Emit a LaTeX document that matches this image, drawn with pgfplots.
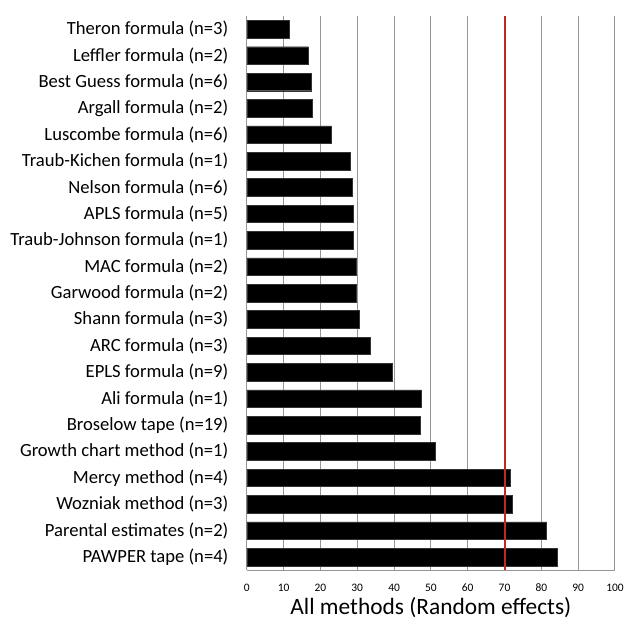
\documentclass[border=0pt]{standalone}
\usepackage{fontspec}
\setmainfont{Carlito}
\usepackage{pgfplots}
\pgfplotsset{compat=1.18}
\definecolor{gridgray}{RGB}{150,150,150}
\definecolor{refred}{RGB}{192,40,40}
\begin{document}
\begin{tikzpicture}
\begin{axis}[
  scale only axis,
  width=370pt, height=557pt,
  xmin=0, xmax=100,
  ymin=-0.5, ymax=20.5,
  y dir=reverse,
  xtick={0,10,...,100},
  ytick={0,...,20},
  yticklabels={Theron formula (n=3),Leffler formula (n=2),Best Guess formula (n=6),Argall formula (n=2),Luscombe formula (n=6),Traub-Kichen formula (n=1),Nelson formula (n=6),APLS formula (n=5),Traub-Johnson formula (n=1),MAC formula (n=2),Garwood formula (n=2),Shann formula (n=3),ARC formula (n=3),EPLS formula (n=9),Ali formula (n=1),Broselow tape (n=19),Growth chart method (n=1),Mercy method (n=4),Wozniak method (n=3),Parental estimates (n=2),PAWPER tape (n=4)},
  /pgf/number format/assume math mode=true,
  xticklabel style={font=\fontsize{11.5}{13}\selectfont, yshift=-10pt},
  yticklabel style={font=\fontsize{18.7}{22}\selectfont, xshift=-15pt},
  major tick length=0pt,
  xmajorgrids,
  grid style={gridgray, line width=1pt},
  axis x line*=bottom,
  axis y line*=left,
  axis line style={gridgray, line width=1pt, -},
  xlabel={All methods (Random effects)},
  xlabel style={font=\fontsize{23.5}{28}\selectfont, yshift=1pt},
]
\addplot[xbar, bar width=17.7pt, fill=black, draw=black!80] coordinates {
(11.5,0) (16.7,1) (17.6,2) (17.9,3) (23.0,4) (28.1,5) (28.7,6) (28.9,7) (28.9,8) (29.8,9) (29.8,10) (30.6,11) (33.4,12) (39.5,13) (47.4,14) (47.1,15) (51.1,16) (71.5,17) (72.2,18) (81.4,19) (84.4,20)
};
\addplot[refred, line width=2pt, mark=none] coordinates {(70,-0.5) (70,20.5)};
\end{axis}
\path (current axis.south west) ++(-248pt,-46pt) rectangle ++(627pt,619pt);
\end{tikzpicture}
\end{document}
